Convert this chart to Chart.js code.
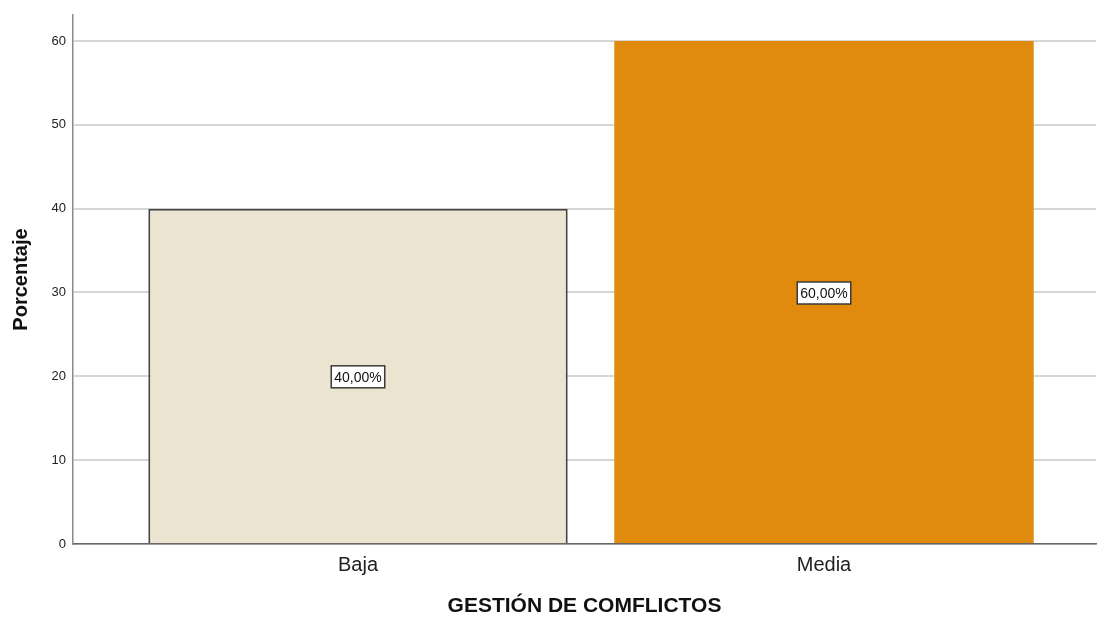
<!DOCTYPE html>
<html>
<head>
<meta charset="utf-8">
<script src="https://cdn.jsdelivr.net/npm/chart.js@4/dist/chart.umd.min.js"></script>
<style>
  html, body { margin: 0; padding: 0; background: #fff; }
  #wrap { width: 1097px; height: 617px; }
</style>
</head>
<body>
<div id="wrap"><canvas id="c" width="1097" height="617"></canvas></div>
<script>
// Categories, percentages and y ticks
const categories = ['Baja', 'Media'];
const percentages = [40, 60];
const barColors = ['#EBE4D0', '#E08A0E'];
const barBorders = ['#444444', '#E08A0E'];
const yTicks = [0, 10, 20, 30, 40, 50, 60];

const FONT = '"Liberation Sans", Arial, sans-serif';

// Boxed value labels in the middle of each bar
const valueBoxes = {
  id: 'valueBoxes',
  afterDatasetsDraw(chart) {
    const ctx = chart.ctx;
    const meta = chart.getDatasetMeta(0);
    ctx.save();
    ctx.font = '14px ' + FONT;
    ctx.textAlign = 'center';
    ctx.textBaseline = 'middle';
    meta.data.forEach((bar, i) => {
      const txt = percentages[i].toFixed(2).replace('.', ',') + '%';
      const cx = bar.x;
      const cy = (bar.y + bar.base) / 2 + 1;
      const w = ctx.measureText(txt).width + 6;
      const h = 22;
      ctx.fillStyle = '#ffffff';
      ctx.fillRect(cx - w / 2, cy - h / 2, w, h);
      ctx.lineWidth = 1.5;
      ctx.strokeStyle = '#3a3a3a';
      ctx.strokeRect(cx - w / 2, cy - h / 2, w, h);
      ctx.fillStyle = '#111';
      ctx.fillText(txt, cx, cy + 1);
    });
    ctx.restore();
  }
};

new Chart(document.getElementById('c'), {
  type: 'bar',
  data: {
    datasets: [{
      data: categories.map((c, i) => ({ x: i + 1, y: percentages[i] })),
      backgroundColor: barColors,
      borderColor: barBorders,
      borderWidth: [2, 0],
      barPercentage: 0.9,
      categoryPercentage: 1.0
    }]
  },
  options: {
    responsive: false,
    animation: false,
    devicePixelRatio: 1,
    layout: { padding: { top: 15, right: 1, left: 0, bottom: 0 } },
    plugins: {
      legend: { display: false },
      tooltip: { enabled: false }
    },
    scales: {
      x: {
        type: 'linear',
        offset: false,
        bounds: 'data',
        min: 0.3884,
        max: 2.5837,
        afterBuildTicks: (s) => { s.ticks = categories.map((c, i) => ({ value: i + 1 })); },
        afterFit: (s) => { s.height = 73; },
        grid: { display: false, drawTicks: false },
        border: { display: true, color: '#666666', width: 1.5 },
        ticks: {
          padding: 9,
          color: '#222',
          font: { family: FONT, size: 20 },
          callback: (v) => categories[v - 1] || ''
        },
        title: {
          display: true,
          text: 'GESTIÓN DE COMFLICTOS',
          color: '#111',
          font: { family: FONT, size: 21, weight: 'bold', lineHeight: 1 },
          padding: { top: 0, bottom: 0 }
        }
      },
      y: {
        min: 0,
        max: 63.1,
        afterBuildTicks: (s) => { s.ticks = yTicks.map(v => ({ value: v })); },
        afterFit: (s) => { s.width = 73; },
        grid: { color: '#d6d6d6', lineWidth: 2, drawTicks: false },
        border: { display: true, color: '#8a8a8a', width: 1.5 },
        ticks: {
          padding: 7,
          color: '#222',
          font: { family: FONT, size: 13 }
        },
        title: {
          display: true,
          text: 'Porcentaje',
          color: '#111',
          font: { family: FONT, size: 20, weight: 'bold' },
          padding: { top: 9, bottom: 0 }
        }
      }
    }
  },
  plugins: [valueBoxes]
});
</script>
</body>
</html>
